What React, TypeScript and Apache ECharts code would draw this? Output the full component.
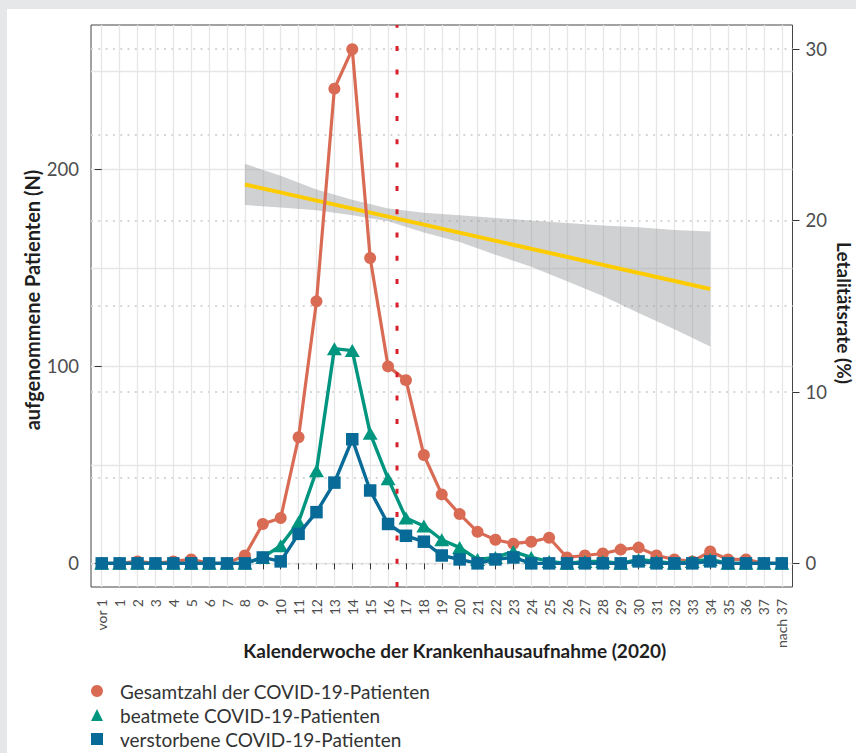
import React, { useEffect, useRef } from "react";
import * as echarts from "echarts";

// ---------- data ----------
const weekLabels = [
  "vor 1", "1", "2", "3", "4", "5", "6", "7", "8", "9", "10",
  "11", "12", "13", "14", "15", "16", "17", "18", "19", "20",
  "21", "22", "23", "24", "25", "26", "27", "28", "29", "30",
  "31", "32", "33", "34", "35", "36", "37", "nach 37",
];

const totalPatients = [
  0, 0, 1, 0, 1, 2, 0, 0, 4, 20, 23,
  64, 133, 241, 261, 155, 100, 93, 55, 35, 25,
  16, 12, 10, 11, 13, 3, 4, 5, 7, 8,
  4, 2, 1, 6, 2, 2, 0, 0,
];

const ventilatedPatients = [
  0, 0, 0, 0, 0, 0, 0, 0, 0, 3, 9,
  21, 47, 109, 108, 66, 43, 23, 19, 12, 8,
  2, 3, 6, 3, 1, 0, 1, 1, 0, 2,
  1, 0, 1, 2, 0, 0, 0, 0,
];

const deceasedPatients = [
  0, 0, 0, 0, 0, 0, 0, 0, 0, 3, 1,
  15, 26, 41, 63, 37, 20, 14, 11, 4, 2,
  0, 2, 3, 0, 0, 0, 0, 0, 0, 1,
  0, 0, 0, 1, 0, 0, 0, 0,
];

// lethality trend (right axis, %), position = index on the week axis
const trendWeeks = [8, 34];
const trendRate = [22.1, 16.0];

// confidence band of the trend (right axis, %)
const bandWeeks = [8, 10, 12, 14, 16, 18, 20, 22, 24, 26, 28, 30, 32, 34];
const bandUpper = [23.3, 22.6, 21.8, 21.2, 20.7, 20.45, 20.3, 20.15, 20.0, 19.85, 19.7, 19.6, 19.45, 19.35];
const bandLower = [20.9, 20.75, 20.6, 20.3, 19.95, 19.3, 18.75, 18.0, 17.3, 16.45, 15.6, 14.6, 13.65, 12.65];

// reference line between week 16 and 17
const cutoffPosition = 16.5;

const leftTicks = [0, 100, 200];
const leftGridValues = [0, 50, 100, 150, 200, 250];
const rightTicks = [0, 10, 20, 30];
const rightGridValues = [0, 5, 10, 15, 20, 25, 30];

const seriesNames = [
  "Gesamtzahl der COVID-19-Patienten",
  "beatmete COVID-19-Patienten",
  "verstorbene COVID-19-Patienten",
];

// ---------- styling ----------
const FONT = "Lato, 'Noto Sans', sans-serif";
const C_TOTAL = "#d96b55";
const C_VENT = "#00957f";
const C_DEAD = "#086a97";
const C_TREND = "#fdcc00";
const C_CUT = "#d7202b";
const AXIS_TEXT = "#4d4d4d";
const TITLE_TEXT = "#1f1f1f";

const leftMin = -12;
const leftMax = 273.3;
const rightMin = -1.38;
const rightMax = 31.4;

function buildOption(): echarts.EChartsOption {
  const idx = weekLabels.map((_, i) => i);
  const pairs = (arr: number[]) => arr.map((v, i) => [i, v]);
  const bandData = bandWeeks.map((w, i) => [w, bandLower[i], bandUpper[i]]);

  return {
    animation: false,
    textStyle: { fontFamily: FONT },
    grid: {
      left: 84,
      top: 16,
      width: 701.5,
      height: 562,
      show: true,
      borderColor: "#444",
      borderWidth: 1,
      backgroundColor: "transparent",
      containLabel: false,
      outerBoundsMode: "none",
    } as any,
    legend: {
      orient: "vertical",
      left: 84,
      top: 672,
      height: 72,
      padding: 0,
      itemWidth: 12,
      itemHeight: 12,
      itemGap: 4,
      selectedMode: false,
      textStyle: {
        fontFamily: FONT,
        fontSize: 19,
        lineHeight: 20,
        color: "#333",
        padding: [0, 0, 0, 12],
      },
      data: [
        { name: seriesNames[0], icon: "circle" },
        { name: seriesNames[1], icon: "triangle" },
        { name: seriesNames[2], icon: "rect" },
      ],
    },
    xAxis: {
      type: "value",
      min: -0.6,
      max: 38.6,
      axisLine: { show: false },
      axisTick: {
        show: true,
        customValues: idx,
        length: 6,
        lineStyle: { color: "#333", width: 1 },
      },
      axisLabel: {
        customValues: idx,
        formatter: (v: number) => weekLabels[Math.round(v)] ?? "",
        rotate: 90,
        fontSize: 14,
        color: AXIS_TEXT,
        margin: 12,
        fontFamily: FONT,
      },
      splitLine: { show: true, lineStyle: { color: "#e6e6e6", width: 1.3 } },
      name: "Kalenderwoche der Krankenhausaufnahme (2020)",
      nameLocation: "middle",
      nameGap: 54,
      nameMoveOverlap: false,
      nameTextStyle: {
        fontFamily: FONT,
        fontWeight: "bold",
        fontSize: 19,
        color: TITLE_TEXT,
        padding: [0, 0, 0, 26],
      },
    } as any,
    yAxis: [
      {
        type: "value",
        position: "left",
        min: leftMin,
        max: leftMax,
        axisLine: { show: false },
        axisTick: {
          show: true,
          customValues: leftTicks,
          length: 7,
          lineStyle: { color: "#333", width: 1 },
        },
        axisLabel: {
          customValues: leftTicks,
          fontSize: 18.5,
          color: AXIS_TEXT,
          margin: 12,
          fontFamily: FONT,
        },
        splitLine: { show: false },
        name: "aufgenommene Patienten (N)",
        nameLocation: "middle",
        nameGap: 49,
        nameMoveOverlap: false,
        nameTextStyle: {
          fontFamily: FONT,
          fontWeight: "bold",
          fontSize: 20,
          color: TITLE_TEXT,
          padding: [0, 0, 0, 12],
        },
      } as any,
      {
        type: "value",
        position: "right",
        min: rightMin,
        max: rightMax,
        axisLine: { show: false },
        axisTick: {
          show: true,
          customValues: rightTicks,
          length: 7,
          lineStyle: { color: "#333", width: 1 },
        },
        axisLabel: {
          customValues: rightTicks,
          fontSize: 18.5,
          color: AXIS_TEXT,
          margin: 13,
          fontFamily: FONT,
        },
        splitLine: { show: false },
        name: "Letalitätsrate (%)",
        nameLocation: "middle",
        nameRotate: -90,
        nameGap: 42,
        nameMoveOverlap: false,
        nameTextStyle: {
          fontFamily: FONT,
          fontWeight: "bold",
          fontSize: 19,
          color: TITLE_TEXT,
          padding: [0, 0, 0, 14],
        },
      } as any,
      {
        // solid grid lines of the left scale
        type: "value",
        position: "left",
        min: leftMin,
        max: leftMax,
        axisLine: { show: false },
        axisLabel: { show: false },
        axisTick: { show: false, customValues: leftGridValues },
        splitLine: { show: true, lineStyle: { color: "#e6e6e6", width: 1.3 } },
      } as any,
      {
        // dotted grid lines of the right scale
        type: "value",
        position: "right",
        min: rightMin,
        max: rightMax,
        axisLine: { show: false },
        axisLabel: { show: false },
        axisTick: { show: false, customValues: rightGridValues },
        splitLine: {
          show: true,
          lineStyle: { color: "#d6d6d6", width: 2, type: [2, 5.3] },
        },
      } as any,
    ],
    series: [
      {
        name: "band",
        type: "custom",
        yAxisIndex: 1,
        silent: true,
        z: 1,
        data: bandData,
        renderItem: (params: any, api: any) => {
          if (params.dataIndex !== 0) return null;
          const upper = bandData.map((d) => api.coord([d[0], d[2]]));
          const lower = bandData.map((d) => api.coord([d[0], d[1]])).reverse();
          return {
            type: "polygon",
            shape: { points: upper.concat(lower) },
            style: { fill: "rgba(150,152,156,0.45)" },
          };
        },
      } as any,
      {
        name: "trend",
        type: "line",
        yAxisIndex: 1,
        symbol: "none",
        silent: true,
        z: 2,
        lineStyle: { color: C_TREND, width: 4 },
        data: trendWeeks.map((w, i) => [w, trendRate[i]]),
      },
      {
        name: seriesNames[0],
        type: "line",
        yAxisIndex: 0,
        z: 3,
        symbol: "circle",
        symbolSize: 12,
        color: C_TOTAL,
        itemStyle: { color: C_TOTAL },
        lineStyle: { color: C_TOTAL, width: 3.2 },
        data: pairs(totalPatients),
      },
      {
        name: seriesNames[1],
        type: "line",
        yAxisIndex: 0,
        z: 4,
        symbol: "triangle",
        symbolSize: [15, 13],
        color: C_VENT,
        itemStyle: { color: C_VENT },
        lineStyle: { color: C_VENT, width: 3.4 },
        data: pairs(ventilatedPatients),
      },
      {
        name: seriesNames[2],
        type: "line",
        yAxisIndex: 0,
        z: 5,
        symbol: "rect",
        symbolSize: 12.5,
        color: C_DEAD,
        itemStyle: { color: C_DEAD },
        lineStyle: { color: C_DEAD, width: 3.4 },
        data: pairs(deceasedPatients),
      },
      {
        name: "cutoff",
        type: "line",
        yAxisIndex: 0,
        z: 6,
        symbol: "none",
        silent: true,
        lineStyle: { color: C_CUT, width: 3, type: [5, 18.3] },
        data: [
          [cutoffPosition, leftMin],
          [cutoffPosition, leftMax],
        ],
      },
    ],
  };
}

export default function App() {
  const ref = useRef<HTMLDivElement>(null);
  useEffect(() => {
    if (!ref.current) return;
    const chart = echarts.init(ref.current, null, { renderer: "svg" });
    chart.setOption(buildOption());
    return () => chart.dispose();
  }, []);
  return (
    <div
      style={{
        position: "fixed",
        left: 0,
        top: 0,
        width: 856,
        height: 753,
        background: "#e6e7e9",
        overflow: "hidden",
      }}
    >
      <div
        ref={ref}
        style={{
          position: "absolute",
          left: 7,
          top: 9,
          width: 849,
          height: 744,
          background: "#ffffff",
        }}
      />
    </div>
  );
}
